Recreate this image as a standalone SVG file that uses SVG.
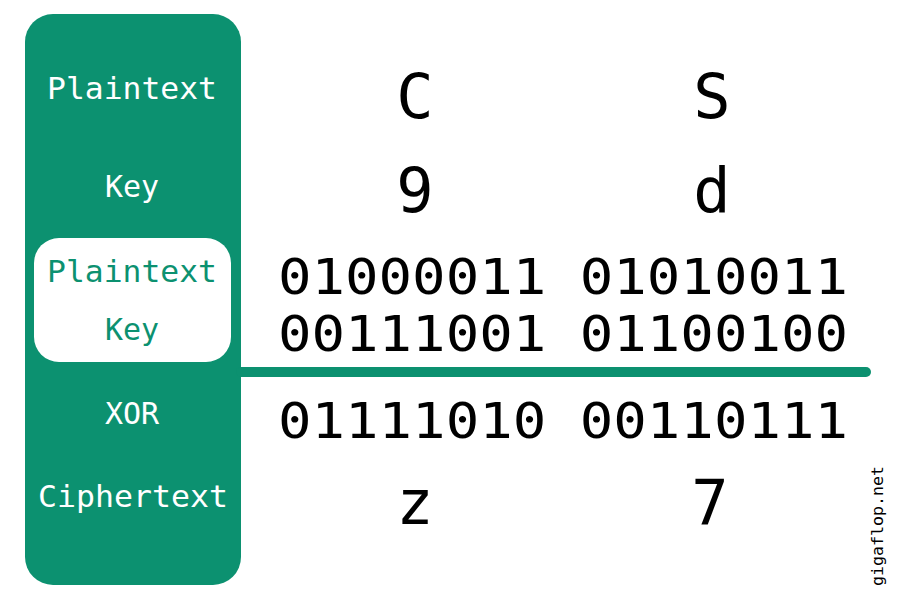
<svg xmlns="http://www.w3.org/2000/svg" width="900" height="600" viewBox="0 0 900 600">
<style>
.lbl{font-family:"DejaVu Sans Mono","Liberation Mono",monospace;font-size:30px;text-anchor:middle}
.w{fill:#ffffff}
.g{fill:#0c9170}
.big{font-family:"DejaVu Sans Mono","Liberation Mono",monospace;font-size:62px;text-anchor:middle;fill:#000}
.bin{font-family:"DejaVu Sans Mono","Liberation Mono",monospace;font-size:50px;text-anchor:middle;fill:#000}
</style>
<rect width="900" height="600" fill="#ffffff"/>
<g id="panel">
<rect x="25" y="14" width="216" height="571" rx="28" fill="#0c9170"/>
<rect x="34" y="238" width="197" height="124" rx="25" fill="#ffffff"/>
</g>
<g id="labels">
<text class="lbl w" x="132" y="99" textLength="170" lengthAdjust="spacingAndGlyphs">Plaintext</text>
<text class="lbl w" x="132" y="197">Key</text>
<text class="lbl g" x="132" y="282" textLength="170" lengthAdjust="spacingAndGlyphs">Plaintext</text>
<text class="lbl g" x="132" y="340">Key</text>
<text class="lbl w" x="132" y="424">XOR</text>
<text class="lbl w" x="133" y="507" textLength="190" lengthAdjust="spacingAndGlyphs">Ciphertext</text>
</g>
<g id="connectors">
<line x1="241" y1="372" x2="866" y2="372" stroke="#0c9170" stroke-width="10" stroke-linecap="round"/>
</g>
<g id="values">
<text class="big" x="415" y="118">C</text>
<text class="big" x="712" y="118">S</text>
<text class="big" x="415" y="212">9</text>
<text class="big" x="712" y="212">d</text>
<text class="bin" x="563" y="294" textLength="570" lengthAdjust="spacingAndGlyphs">01000011 01010011</text>
<text class="bin" x="563" y="351" textLength="570" lengthAdjust="spacingAndGlyphs">00111001 01100100</text>
<text class="bin" x="563" y="438" textLength="570" lengthAdjust="spacingAndGlyphs">01111010 00110111</text>
<text class="big" x="415" y="524">z</text>
<text class="big" x="710" y="524">7</text>
</g>
<text x="0" y="0" transform="translate(883,586) rotate(-90)" font-family="DejaVu Sans Mono, monospace" font-size="16" fill="#000" textLength="120" lengthAdjust="spacingAndGlyphs">gigaflop.net</text>
</svg>
